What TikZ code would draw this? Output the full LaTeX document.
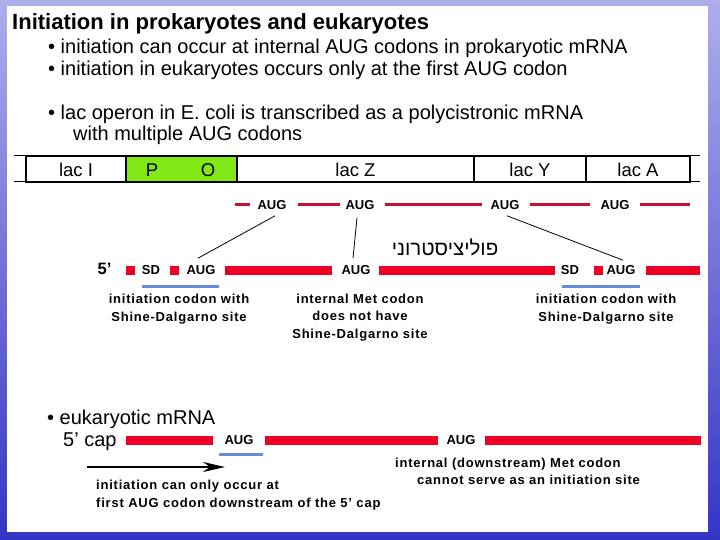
\documentclass[tikz,border=0pt]{standalone}
\usepackage{fontspec}
\setmainfont{Liberation Sans}
\newfontfamily\hebfont[Script=Hebrew]{Liberation Sans}
\newfontfamily\lblfont[LetterSpace=6]{Liberation Sans}
\TeXXeTstate=1
\usetikzlibrary{arrows.meta}
\definecolor{bgtop}{RGB}{174,174,236}
\definecolor{bgbot}{RGB}{52,52,198}
\definecolor{redthin}{RGB}{204,16,52}
\definecolor{redbar}{RGB}{238,0,36}
\definecolor{ublue}{RGB}{100,140,220}
\definecolor{lime}{RGB}{128,232,20}
\tikzset{
  titletxt/.style={anchor=base west, inner sep=0, font=\bfseries\fontsize{22}{26}\selectfont},
  bul/.style={anchor=base west, inner sep=0, font=\fontsize{20}{23}\selectfont},
  genebox/.style={draw=black, line width=2.5pt, minimum height=26pt, inner sep=0},
  genelbl/.style={anchor=base, inner sep=0, font=\fontsize{18.5}{22}\selectfont},
  aug/.style={inner sep=0, font=\bfseries\fontsize{13}{15}\selectfont},
  note/.style={inner sep=0, font=\lblfont\bfseries\fontsize{13}{17.5}\selectfont},
  thinred/.style={draw=redthin, line width=3pt},
  bar/.style={draw=redbar, line width=9pt},
  sq/.style={fill=redbar, minimum size=9pt, inner sep=0},
  uline/.style={draw=ublue, line width=3pt},
  conn/.style={draw=black, line width=0.8pt},
  extline/.style={draw=black, line width=1pt},
}
\begin{document}
\begin{tikzpicture}[x=1pt,y=-1pt]
\useasboundingbox (0,0) rectangle (720,540);
% background
\shade[top color=bgtop, bottom color=bgbot] (0,0) rectangle (720,540);
\fill[white] (7,6) rectangle (708,532);

% heading and bullets
\node[titletxt] (title) at (12,30) {Initiation in prokaryotes and eukaryotes};
\node[bul] (b1) at (48,54) {• initiation can occur at internal AUG codons in prokaryotic mRNA};
\node[bul] (b2) at (48,76) {• initiation in eukaryotes occurs only at the first AUG codon};
\node[bul] (b3) at (48,120) {• lac operon in E. coli is transcribed as a polycistronic mRNA};
\node[bul] (b4) at (73,141) {with multiple AUG codons};

% gene bar
\draw[extline] (14,156) -- (26,156);
\draw[extline] (14,182) -- (26,182);
\draw[extline] (690,156) -- (700,156);
\draw[extline] (690,182) -- (700,182);
\node[genebox, minimum width=111pt, fill=lime] (po) at (181.5,169) {};
\node[genebox, minimum width=100pt] (lacI) at (76,169) {};
\node[genebox, minimum width=237pt] (lacZ) at (355.5,169) {};
\node[genebox, minimum width=112pt] (lacY) at (530,169) {};
\node[genebox, minimum width=104pt] (lacA) at (638,169) {};
\node[genelbl] (tI) at (76,177) {lac I};
\node[genelbl] (tP) at (152,177) {P};
\node[genelbl] (tO) at (208,177) {O};
\node[genelbl] (tZ) at (355.5,177) {lac Z};
\node[genelbl] (tY) at (530,177) {lac Y};
\node[genelbl] (tA) at (638,177) {lac A};

% top mRNA row
\draw[thinred] (235,205) -- (250,205);
\draw[thinred] (298,205) -- (340,205);
\draw[thinred] (385,205) -- (482,205);
\draw[thinred] (530,205) -- (590,205);
\draw[thinred] (640,205) -- (690,205);
\node[aug] (a1) at (272,205) {AUG};
\node[aug] (a2) at (360,205) {AUG};
\node[aug] (a3) at (505,205) {AUG};
\node[aug] (a4) at (615,205) {AUG};

% hebrew
\node[inner sep=0, font=\hebfont\fontsize{20.5}{24}\selectfont] (heb) at (445,247) {\beginR פוליציסטרוני\endR};

% bottom prokaryotic row
\node[inner sep=0, font=\bfseries\fontsize{16.5}{19}\selectfont] (five) at (104.5,269) {5’};
\node[sq] (s1) at (130,270) {};
\node[aug] (sd1) at (151,270) {SD};
\node[sq] (s2) at (174,270) {};
\node[aug] (c1) at (201,270) {AUG};
\draw[bar] (225,270) -- (332,270);
\node[aug] (c2) at (356,270) {AUG};
\draw[bar] (379,270) -- (555,270);
\node[aug] (sd2) at (570,270) {SD};
\node[sq] (s3) at (598,270) {};
\node[aug] (c3) at (621,270) {AUG};
\draw[bar] (646,270) -- (700,270);

\draw[uline] (142,286) -- (219,286);
\draw[uline] (562,286) -- (640,286);

% connectors
\draw[conn] ([xshift=3pt,yshift=-6pt]a1.south) -- ([xshift=-3pt,yshift=7pt]c1.north);
\draw[conn] ([xshift=-3pt,yshift=-8pt]a2.south) -- ([xshift=-3pt,yshift=7pt]c2.north);
\draw[conn] ([xshift=2pt,yshift=-6pt]a3.south) -- ([xshift=2pt,yshift=5pt]c3.north);

% notes (base anchor = last line)
\node[note, align=center, anchor=base] (n1) at (179,321) {initiation codon with\\Shine-Dalgarno site};
\node[note, align=center, anchor=base] (n2) at (360,338) {internal Met codon\\does not have\\Shine-Dalgarno site};
\node[note, align=center, anchor=base] (n3) at (606,321) {initiation codon with\\Shine-Dalgarno site};

% eukaryotic
\node[bul] (b5) at (47,424) {• eukaryotic mRNA};
\node[bul] (cap) at (63,446) {5’ cap};
\draw[bar] (126,440) -- (213,440);
\node[aug] (e1) at (239,440) {AUG};
\draw[bar] (265,440) -- (438,440);
\node[aug] (e2) at (461,440) {AUG};
\draw[bar] (485,440) -- (701,440);
\draw[uline] (219,454) -- (263,454);
\coordinate (arS) at (87,467);
\coordinate (arE) at (225,467);
\draw[line width=2.5pt, -{Stealth[length=22pt,width=10pt,inset=7pt]}] (arS) -- (arE);
\node[note, anchor=base west, align=left] (n4) at (96,507) {initiation can only occur at\\first AUG  codon downstream of the 5’ cap};
\node[note, anchor=base west] (n5) at (395,467) {internal (downstream) Met codon};
\node[note, anchor=base west] (n6) at (417,484) {cannot serve as an initiation site};
\end{tikzpicture}
\end{document}
